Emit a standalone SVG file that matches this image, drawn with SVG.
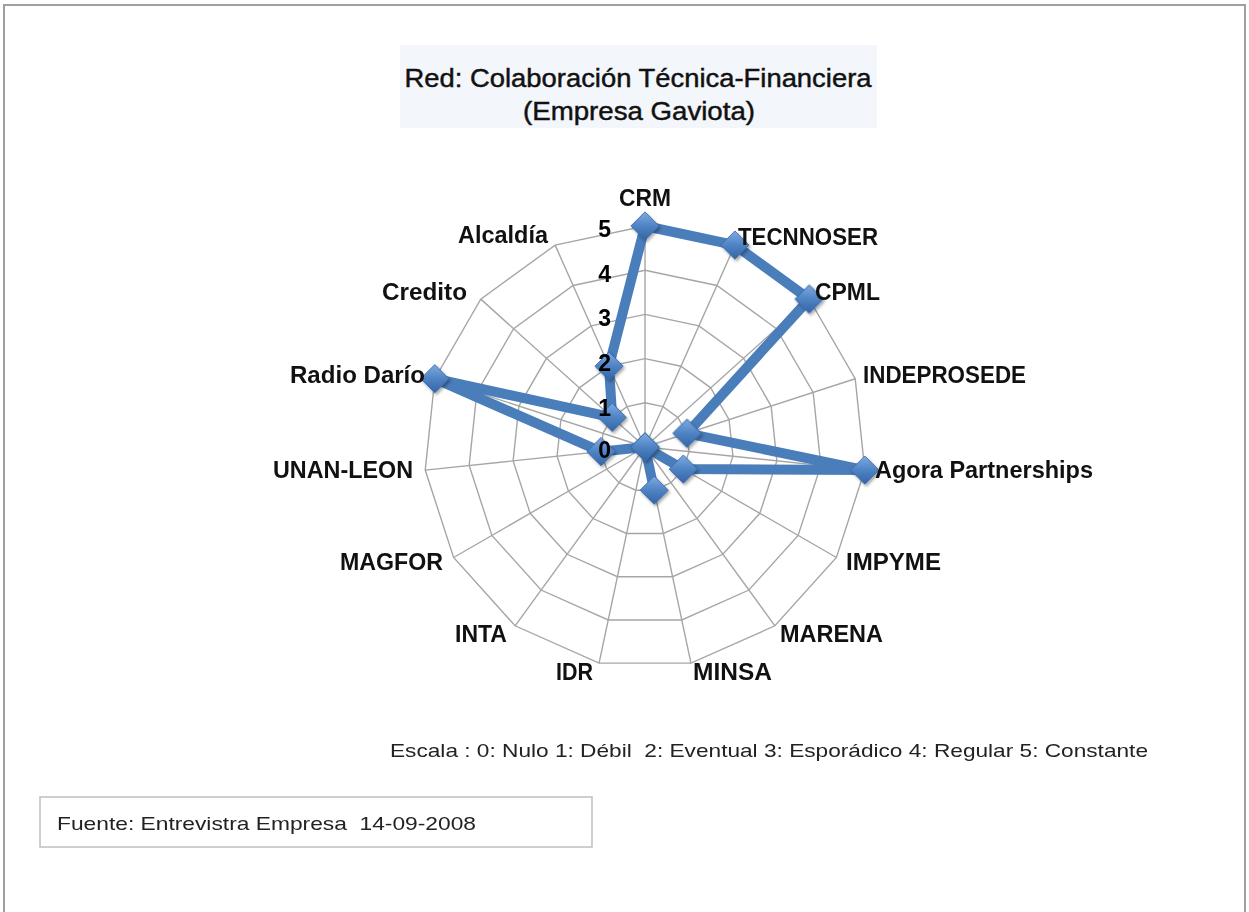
<svg xmlns="http://www.w3.org/2000/svg" width="1249" height="912" viewBox="0 0 1249 912">
  <style>
    .lbl { font-family: "Liberation Sans", Arial, sans-serif; font-weight: bold; font-size: 23px; fill: #111; }
    .num { font-family: "Liberation Sans", Arial, sans-serif; font-weight: bold; font-size: 23px; fill: #000; text-anchor: end; }
    .title { font-family: "Liberation Sans", Arial, sans-serif; font-size: 26px; fill: #111; stroke: #111; stroke-width: 0.45; text-anchor: middle; }
    .note { font-family: "Liberation Sans", Arial, sans-serif; font-size: 19px; fill: #222; }
    .grid { fill: none; stroke: #a6a6a6; stroke-width: 1.4; }
    .series { fill: none; stroke: #4a7ebb; stroke-width: 10; stroke-linejoin: round; stroke-linecap: round; }
  </style>
  <defs>
    <linearGradient id="dg" x1="0" y1="0" x2="1" y2="1">
      <stop offset="0" stop-color="#7eaae2"/>
      <stop offset="0.5" stop-color="#4f83c4"/>
      <stop offset="1" stop-color="#3465a6"/>
    </linearGradient>
    <filter id="sh" x="-50%" y="-50%" width="200%" height="200%">
      <feDropShadow dx="1.5" dy="2" stdDeviation="1.5" flood-color="#000" flood-opacity="0.35"/>
    </filter>
    <rect id="dia" x="-10" y="-10" width="20" height="20" transform="rotate(45)" fill="url(#dg)" stroke="#3a69a8" stroke-width="0.8"/>
  </defs>

  <rect id="frame" x="4" y="5" width="1241" height="930" fill="#fff" stroke="#a0a0a0" stroke-width="2"/>

  <g id="title">
    <rect x="400" y="45" width="477" height="83" fill="#f3f6fa"/>
    <text class="title" x="638" y="87" textLength="467" lengthAdjust="spacingAndGlyphs">Red: Colaboración Técnica-Financiera</text>
    <text class="title" x="639" y="120" textLength="232" lengthAdjust="spacingAndGlyphs">(Empresa Gaviota)</text>
  </g>

  <g id="grid">
    <polygon class="grid" points="645,402.8 662.98,406.62 677.85,417.43 687.04,433.34 688.96,451.62 683.28,469.1 670.98,482.76 654.19,490.23 635.81,490.23 619.02,482.76 606.72,469.1 601.04,451.62 602.96,433.34 612.15,417.43 627.02,406.62"/>
    <polygon class="grid" points="645,358.6 680.95,366.25 710.69,387.85 729.08,419.68 732.91,456.24 721.55,491.2 696.96,518.52 663.38,533.46 626.62,533.46 593.04,518.52 568.45,491.2 557.09,456.24 560.92,419.68 579.31,387.85 609.05,366.25"/>
    <polygon class="grid" points="645,314.4 698.93,325.87 743.54,358.28 771.11,406.03 776.87,460.86 759.83,513.3 722.94,554.27 672.57,576.7 617.43,576.7 567.06,554.27 530.17,513.3 513.13,460.86 518.89,406.03 546.46,358.28 591.07,325.87"/>
    <polygon class="grid" points="645,270.2 716.9,285.49 776.38,328.7 813.15,392.37 820.83,465.48 798.11,535.4 748.92,590.03 681.76,619.93 608.24,619.93 541.08,590.03 491.89,535.4 469.17,465.48 476.85,392.37 513.62,328.7 573.1,285.49"/>
    <polygon class="grid" points="645,226 734.88,245.12 809.23,299.13 855.19,378.71 864.78,470.09 836.39,557.5 774.9,625.79 690.95,663.16 599.05,663.16 515.1,625.79 453.61,557.5 425.22,470.09 434.81,378.71 480.77,299.13 555.12,245.12"/>
    <path class="grid" d="M645,447L645,226M645,447L734.88,245.12M645,447L809.23,299.13M645,447L855.19,378.71M645,447L864.78,470.09M645,447L836.39,557.5M645,447L774.9,625.79M645,447L690.95,663.16M645,447L599.05,663.16M645,447L515.1,625.79M645,447L453.61,557.5M645,447L425.22,470.09M645,447L434.81,378.71M645,447L480.77,299.13M645,447L555.12,245.12"/>
  </g>

  <g id="connectors">
    <polygon class="series" points="645,226 734.9,245.1 809.2,299.1 687,433.3 864.8,470.1 683.3,469.1 645,447 654.2,490.2 645,447 645,447 645,447 601,451.6 434.8,378.7 612.2,417.4 609,366.2"/>
  </g>

  <g id="markers" filter="url(#sh)">
    <use id="m-crm" href="#dia" x="645" y="226"/>
    <use id="m-tecnnoser" href="#dia" x="734.9" y="245.1"/>
    <use id="m-cpml" href="#dia" x="809.2" y="299.1"/>
    <use id="m-indeprosede" href="#dia" x="687" y="433.3"/>
    <use id="m-agora" href="#dia" x="864.8" y="470.1"/>
    <use id="m-impyme" href="#dia" x="683.3" y="469.1"/>
    <use id="m-marena" href="#dia" x="645" y="447"/>
    <use id="m-minsa" href="#dia" x="654.2" y="490.2"/>
    <use id="m-idr" href="#dia" x="645" y="447"/>
    <use id="m-inta" href="#dia" x="645" y="447"/>
    <use id="m-magfor" href="#dia" x="645" y="447"/>
    <use id="m-unan" href="#dia" x="601" y="451.6"/>
    <use id="m-radio" href="#dia" x="434.8" y="378.7"/>
    <use id="m-credito" href="#dia" x="612.2" y="417.4"/>
    <use id="m-alcaldia" href="#dia" x="609" y="366.2"/>
  </g>

  <g id="scale-numbers">
    <text class="num" x="611" y="237">5</text>
    <text class="num" x="611" y="282">4</text>
    <text class="num" x="611" y="326">3</text>
    <text class="num" x="611" y="371">2</text>
    <text class="num" x="611" y="416">1</text>
    <text class="num" x="611" y="458">0</text>
  </g>

  <g id="axis-labels">
    <g id="n-crm"><text class="lbl" x="645" y="206" text-anchor="middle" textLength="52" lengthAdjust="spacingAndGlyphs">CRM</text></g>
    <g id="n-tecnnoser"><text class="lbl" x="738" y="245" textLength="140" lengthAdjust="spacingAndGlyphs">TECNNOSER</text></g>
    <g id="n-cpml"><text class="lbl" x="815" y="300" textLength="65" lengthAdjust="spacingAndGlyphs">CPML</text></g>
    <g id="n-indeprosede"><text class="lbl" x="863" y="383" textLength="163" lengthAdjust="spacingAndGlyphs">INDEPROSEDE</text></g>
    <g id="n-agora"><text class="lbl" x="875" y="478" textLength="218" lengthAdjust="spacingAndGlyphs">Agora Partnerships</text></g>
    <g id="n-impyme"><text class="lbl" x="846" y="570" textLength="95" lengthAdjust="spacingAndGlyphs">IMPYME</text></g>
    <g id="n-marena"><text class="lbl" x="780" y="642" textLength="103" lengthAdjust="spacingAndGlyphs">MARENA</text></g>
    <g id="n-minsa"><text class="lbl" x="693" y="680" textLength="79" lengthAdjust="spacingAndGlyphs">MINSA</text></g>
    <g id="n-idr"><text class="lbl" x="593" y="680" text-anchor="end" textLength="37" lengthAdjust="spacingAndGlyphs">IDR</text></g>
    <g id="n-inta"><text class="lbl" x="507" y="642" text-anchor="end" textLength="52" lengthAdjust="spacingAndGlyphs">INTA</text></g>
    <g id="n-magfor"><text class="lbl" x="443" y="570" text-anchor="end" textLength="103" lengthAdjust="spacingAndGlyphs">MAGFOR</text></g>
    <g id="n-unan"><text class="lbl" x="413" y="478" text-anchor="end" textLength="140" lengthAdjust="spacingAndGlyphs">UNAN-LEON</text></g>
    <g id="n-radio"><text class="lbl" x="425" y="383" text-anchor="end" textLength="135" lengthAdjust="spacingAndGlyphs">Radio Darío</text></g>
    <g id="n-credito"><text class="lbl" x="467" y="300" text-anchor="end" textLength="85" lengthAdjust="spacingAndGlyphs">Credito</text></g>
    <g id="n-alcaldia"><text class="lbl" x="548" y="243" text-anchor="end" textLength="90" lengthAdjust="spacingAndGlyphs">Alcaldía</text></g>
  </g>

  <g id="scale-note">
    <text class="note" x="390" y="757" xml:space="preserve" textLength="758" lengthAdjust="spacingAndGlyphs">Escala : 0: Nulo 1: Débil  2: Eventual 3: Esporádico 4: Regular 5: Constante</text>
  </g>

  <g id="source">
    <rect x="40" y="797" width="552" height="50" fill="#fff" stroke="#bfbfbf" stroke-width="1.5"/>
    <text class="note" x="57" y="830" xml:space="preserve" textLength="419" lengthAdjust="spacingAndGlyphs">Fuente: Entrevistra Empresa  14-09-2008</text>
  </g>
</svg>
